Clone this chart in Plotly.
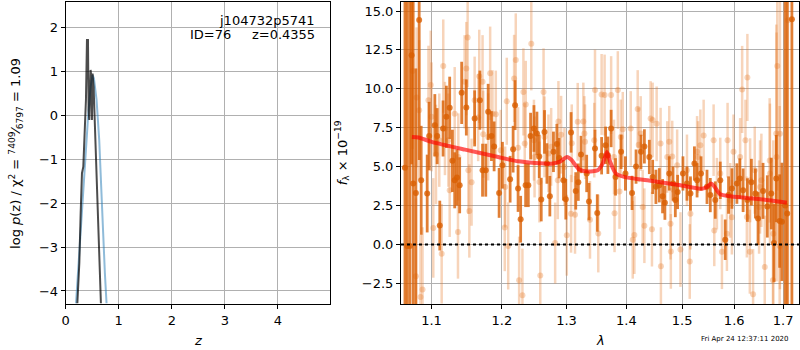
import plotly.graph_objects as go

# ---------------- left panel: log p(z) ----------------
pz_z = [0.195, 0.238, 0.282, 0.332, 0.382, 0.426, 0.470, 0.507, 0.532, 0.582,
        0.632, 0.676, 0.707, 0.739, 0.770]
pz_logp = [-4.28, -3.45, -2.69, -1.78, -0.79, 0.04, 0.65, 0.91, 0.84, 0.35,
           -0.56, -1.63, -2.69, -3.60, -4.28]

chi_z = [0.220, 0.245, 0.257, 0.282, 0.307, 0.332, 0.357, 0.382, 0.401, 0.420,
         0.432, 0.445, 0.470, 0.482, 0.495, 0.507, 0.526, 0.551, 0.576, 0.601,
         0.626, 0.645, 0.664]
chi_logp = [-4.28, -3.60, -3.37, -2.23, -1.32, -1.17, -0.41, 0.35, 1.71, 1.71,
            0.12, -0.11, 1.03, 0.88, -0.11, 0.95, 0.65, -0.26, -1.17, -2.38,
            -3.29, -3.75, -4.28]

# ---------------- right panel: spectrum ----------------
dark_wave = [1.0644, 1.0674, 1.0709, 1.0732, 1.0753, 1.0789, 1.0833, 1.0860, 1.0941, 1.0968,
             1.1045, 1.1077, 1.1113, 1.1158, 1.1204, 1.1250, 1.1288, 1.1320, 1.1352, 1.1390,
             1.1418, 1.1484, 1.1603, 1.1678, 1.1717, 1.1764, 1.1799, 1.1847, 1.1886, 1.1960,
             1.2009, 1.2124, 1.2169, 1.2199, 1.2244, 1.2283, 1.2359, 1.2400, 1.2435, 1.2487,
             1.2533, 1.2569, 1.2600, 1.2651, 1.2689, 1.2735, 1.2792, 1.2846, 1.2882, 1.2951,
             1.2989, 1.3074, 1.3150, 1.3192, 1.3236, 1.3329, 1.3367, 1.3467, 1.3505, 1.3578,
             1.3645, 1.3684, 1.3739, 1.3814, 1.3909, 1.3984, 1.4099, 1.4169, 1.4256, 1.4316,
             1.4404, 1.4463, 1.4522, 1.4583, 1.4642, 1.4684, 1.4764, 1.4833, 1.4875, 1.4917,
             1.5016, 1.5091, 1.5156, 1.5231, 1.5281, 1.5356, 1.5470, 1.5533, 1.5629, 1.5726,
             1.5823, 1.5888, 1.5954, 1.6053, 1.6111, 1.6177, 1.6263, 1.6344, 1.6425, 1.6479,
             1.6581, 1.6669, 1.6751, 1.6807, 1.6855, 1.6926, 1.6974, 1.7040, 1.7085, 1.7184]
dark_flux = [4.92, -0.10, -0.10, 12.15, 3.91, 3.31, 14.42, 4.12, 3.27, 6.96,
             7.66, 6.96, 1.21, 7.45, 8.20, 8.78, 5.37, 4.12, 4.30, 3.80,
             9.74, 8.80, 8.10, 9.27, 4.77, 4.77, 8.52, 6.96, 6.30, 3.31,
             5.09, 4.19, 6.12, 8.95, 3.59, 1.62, 3.80, 3.80, 6.96, 7.45,
             7.13, 5.65, 2.88, 7.23, 5.20, 3.10, 5.95, 6.45, 5.55, 4.12,
             2.90, 7.20, 3.44, 4.00, 5.78, 4.56, 2.75, 6.17, 2.02, 5.70,
             6.37, 5.73, 7.45, 4.34, 5.95, 4.56, 3.31, 5.00, 5.95, 6.30,
             5.62, 4.34, 3.70, 3.80, 3.10, 2.68, 4.56, 3.91, 2.85, 3.37,
             4.56, 3.91, 3.27, 5.20, 4.12, 4.56, 3.70, 3.17, 2.85, 4.12,
             0.30, 3.17, 3.59, 3.91, 4.23, 3.48, 2.85, 4.00, 3.27, 1.66,
             3.44, 2.44, 3.27, 0.09, 4.23, 1.50, 1.45, 2.50, 1.98, 14.47]
dark_err = [20, 20, 20, 7, 20, 8, 9, 3.5, 2.5, 2.2,
            2.0, 1.8, 1.6, 1.8, 2.0, 2.0, 2.0, 1.8, 1.8, 1.8,
            2.0, 1.8, 1.8, 1.9, 1.7, 1.7, 1.8, 1.6, 1.6, 1.6,
            1.5, 1.5, 1.5, 1.6, 1.5, 1.5, 1.4, 1.4, 1.5, 1.5,
            1.4, 1.4, 1.4, 1.4, 1.3, 1.3, 1.3, 1.3, 1.3, 1.3,
            1.3, 1.3, 1.2, 1.2, 1.2, 1.2, 1.2, 1.2, 1.2, 1.2,
            1.2, 1.2, 1.2, 1.2, 1.1, 1.1, 1.1, 1.1, 1.1, 1.1,
            1.1, 1.1, 1.1, 1.1, 1.1, 1.1, 1.1, 1.1, 1.1, 1.1,
            1.1, 1.1, 1.1, 1.1, 1.1, 1.1, 1.1, 1.1, 1.2, 1.2,
            1.3, 1.2, 1.3, 1.3, 1.3, 1.4, 1.4, 1.5, 1.6, 1.7,
            1.8, 2.0, 2.3, 2.5, 2.8, 3.0, 3.8, 20, 20, 20]

light_wave = [1.0745, 1.0789, 1.0798, 1.0833, 1.0851, 1.0878, 1.0958, 1.0989, 1.1000, 1.1024,
              1.1061, 1.1106, 1.1139, 1.1161, 1.1184, 1.1232, 1.1250, 1.1320, 1.1366, 1.1371,
              1.1460, 1.1484, 1.1503, 1.1513, 1.1527, 1.1559, 1.1603, 1.1654, 1.1669, 1.1717,
              1.1727, 1.1799, 1.1828, 1.1862, 1.1911, 1.1984, 1.2044, 1.2050, 1.2074, 1.2095,
              1.2184, 1.2209, 1.2244, 1.2260, 1.2310, 1.2325, 1.2345, 1.2361, 1.2446, 1.2487,
              1.2496, 1.2572, 1.2585, 1.2636, 1.2651, 1.2713, 1.2756, 1.2819, 1.2861, 1.2871,
              1.2914, 1.2967, 1.3005, 1.3074, 1.3085, 1.3138, 1.3182, 1.3274, 1.3291, 1.3302,
              1.3384, 1.3455, 1.3467, 1.3522, 1.3578, 1.3628, 1.3739, 1.3788, 1.3797, 1.3853,
              1.3882, 1.3904, 1.3938, 1.4076, 1.4111, 1.4140, 1.4198, 1.4216, 1.4251, 1.4286,
              1.4316, 1.4427, 1.4451, 1.4463, 1.4535, 1.4606, 1.4612, 1.4727, 1.4764, 1.4787,
              1.4793, 1.4818, 1.4909, 1.4970, 1.5091, 1.5143, 1.5156, 1.5281, 1.5300, 1.5343,
              1.5406, 1.5597, 1.5610, 1.5661, 1.5726, 1.5759, 1.5856, 1.5869, 1.5921, 1.5954,
              1.5986, 1.6118, 1.6158, 1.6224, 1.6252, 1.6263, 1.6312, 1.6318, 1.6378, 1.6412,
              1.6500, 1.6520, 1.6547, 1.6616, 1.6718, 1.6724, 1.6786, 1.6793, 1.6855, 1.6862,
              1.6876, 1.6926, 1.6932, 1.7100]
light_flux = [11.14, -2.05, 9.45, 8.63, -3.38, -2.90, 9.27, 10.24, 8.20, 1.06,
              5.78, 6.70, -0.60, 11.46, 7.45, 6.70, 3.48, 8.40, 0.80, 5.62,
              10.45, 11.30, 13.30, 4.76, 2.15, 4.00, 9.27, 8.15, 10.80, 10.45,
              7.08, 6.91, 11.00, 8.40, 8.37, 6.05, 1.08, 3.69, 9.20, -0.10,
              10.67, 11.85, 6.22, -2.30, -3.27, 9.80, 6.48, 9.00, 12.90, 6.70,
              5.62, 4.01, -2.00, 9.80, 6.91, 5.85, 6.27, 0.09, 4.12, 7.90,
              7.05, 4.98, 0.59, 1.97, 6.50, 1.90, 7.88, 7.90, 7.13, 6.60,
              1.58, 6.70, 9.92, 0.70, 9.64, 9.60, 9.60, 5.62, 2.00, 9.92,
              3.40, 6.91, 7.40, 7.45, 0.30, 0.60, 8.70, 6.40, 7.13, 2.40,
              1.20, 8.09, 0.98, 8.00, 7.75, 6.48, -1.40, 5.62, 6.60, 1.33,
              -0.45, 5.65, 5.09, -0.33, 4.76, -1.10, 1.97, 5.95, 5.62, 6.37,
              7.00, 6.70, 0.90, 3.26, 4.56, -0.47, 0.69, 6.70, 2.83, 1.75,
              5.95, 5.62, 9.96, 6.70, 1.76, 10.73, -0.47, 4.12, -3.20, 4.77,
              2.40, 3.69, 4.12, -1.45, 5.40, 4.55, -2.30, 0.69, 7.13, 5.62,
              11.46, -0.10, 7.12, 14.40]
light_err = [5.0, 5.0, 4.5, 4.5, 4.0, 4.0, 3.5, 3.5, 3.5, 3.2,
             3.2, 3.0, 3.2, 3.0, 3.0, 3.0, 3.0, 3.0, 3.0, 2.8,
             3.0, 3.0, 3.2, 2.8, 3.0, 2.8, 2.8, 2.8, 3.0, 3.0,
             2.8, 2.8, 3.0, 2.8, 2.8, 2.6, 2.8, 2.6, 2.8, 2.8,
             2.8, 3.0, 2.6, 2.8, 3.0, 2.8, 2.6, 2.8, 3.0, 2.6,
             2.6, 2.6, 2.8, 2.8, 2.6, 2.5, 2.5, 2.6, 2.5, 2.6,
             2.5, 2.5, 2.6, 2.5, 2.5, 2.5, 2.5, 2.5, 2.4, 2.4,
             2.5, 2.4, 2.6, 2.5, 2.6, 2.6, 2.5, 2.4, 2.5, 2.5,
             2.4, 2.4, 2.4, 2.4, 2.5, 2.5, 2.5, 2.4, 2.4, 2.4,
             2.4, 2.4, 2.4, 2.4, 2.4, 2.3, 2.5, 2.3, 2.3, 2.3,
             2.4, 2.3, 2.3, 2.4, 2.3, 2.4, 2.3, 2.3, 2.3, 2.3,
             2.3, 2.3, 2.3, 2.3, 2.3, 2.4, 2.4, 2.4, 2.4, 2.4,
             2.4, 2.5, 2.8, 2.6, 2.6, 2.8, 2.7, 2.7, 2.9, 2.8,
             3.0, 3.0, 3.0, 3.3, 4.0, 4.5, 5.0, 6.0, 7.0, 8.0,
             8.0, 9.0, 10.0, 20.0]

model_wave = [1.0736, 1.0825, 1.1003, 1.1465, 1.1945, 1.2244, 1.2756, 1.2887, 1.3010, 1.3074,
              1.3209, 1.3345, 1.3512, 1.3595, 1.3667, 1.3723, 1.3820, 1.3962, 1.4368, 1.4970,
              1.5375, 1.5470, 1.5546, 1.5610, 1.5726, 1.6252, 1.6587, 1.7078]
model_flux = [6.91, 6.87, 6.59, 6.09, 5.62, 5.34, 5.19, 5.30, 5.62, 5.45,
              4.81, 4.68, 4.76, 5.19, 5.94, 5.30, 4.55, 4.34, 4.12, 3.80,
              3.58, 3.69, 3.91, 3.73, 3.22, 2.98, 2.88, 2.68]

lam_ticks = [1.1, 1.2, 1.3, 1.4, 1.5, 1.6, 1.7]
flux_ticks = [-2.5, 0.0, 2.5, 5.0, 7.5, 10.0, 12.5, 15.0]
z_ticks = [0, 1, 2, 3, 4]
logp_ticks = [-4, -3, -2, -1, 0, 1, 2]

FONT = "DejaVu Sans"
FS = 13
W, H = 800, 350

fig = go.Figure()

fig.add_trace(go.Scatter(x=pz_z, y=pz_logp, xaxis="x", yaxis="y", mode="lines",
                         line=dict(color="rgba(31,119,180,0.5)", width=2), showlegend=False))
fig.add_trace(go.Scatter(x=chi_z, y=chi_logp, xaxis="x", yaxis="y", mode="lines",
                         line=dict(color="rgba(0,0,0,0.7)", width=2), showlegend=False))

light_col = "rgba(230,120,40,0.32)"
fig.add_trace(go.Scatter(x=light_wave, y=light_flux, xaxis="x2", yaxis="y2", mode="markers",
                         marker=dict(color=light_col, size=6),
                         error_y=dict(type="data", array=light_err, color=light_col,
                                      thickness=2.5, width=0),
                         showlegend=False))
dark_col = "rgba(217,95,2,0.8)"
fig.add_trace(go.Scatter(x=dark_wave, y=dark_flux, xaxis="x2", yaxis="y2", mode="markers",
                         marker=dict(color=dark_col, size=6),
                         error_y=dict(type="data", array=dark_err, color=dark_col,
                                      thickness=2.8, width=0),
                         showlegend=False))
fig.add_trace(go.Scatter(x=model_wave, y=model_flux, xaxis="x2", yaxis="y2", mode="lines",
                         line=dict(color="rgba(255,0,0,0.65)", width=4, shape="spline",
                                   smoothing=0.6),
                         showlegend=False))

fig.add_shape(type="line", xref="x2 domain", yref="y2", x0=0, x1=1, y0=0, y1=0,
              line=dict(color="black", width=2, dash="dot"))

ydom = [1 - 304 / H, 1 - 2 / H]
axis_common = dict(showline=True, linecolor="black", linewidth=1, mirror=True,
                   ticks="outside", ticklen=4, tickcolor="black",
                   showgrid=True, gridcolor="#b0b0b0", gridwidth=1, zeroline=False,
                   tickfont=dict(family=FONT, size=FS, color="black"))

fig.update_layout(
    width=W, height=H,
    margin=dict(l=0, r=0, t=0, b=0),
    paper_bgcolor="white", plot_bgcolor="white",
    font=dict(family=FONT, color="black", size=FS),
    xaxis=dict(domain=[62 / W, 328 / W], range=[0, 4.99], tickvals=z_ticks,
               anchor="y", **axis_common),
    yaxis=dict(domain=ydom, range=[-4.296, 2.576], tickvals=logp_ticks,
               anchor="x", **axis_common),
    xaxis2=dict(domain=[399 / W, 799 / W], type="log", range=[0.02498, 0.23895],
                tickvals=lam_ticks, ticktext=[f"{v:.1f}" for v in lam_ticks],
                anchor="y2", **axis_common),
    yaxis2=dict(domain=ydom, range=[-3.83, 15.58], tickvals=flux_ticks,
                tickformat=".1f", anchor="x2", **axis_common),
)

nb = "\u00a0"
ann = [
    dict(text="j104732p5741", x=315 / W, y=1 - 20 / H, xanchor="right", yanchor="middle",
         size=FS),
    dict(text="ID=76" + nb * 5 + "z=0.4355", x=315 / W, y=1 - 35 / H, xanchor="right",
         yanchor="middle", size=FS),
    dict(text="log <i>p</i>(z) / χ<sup>2</sup> = <sup>7409</sup>⁄<sub>6797</sub> = 1.09",
         x=12 / W, y=1 - 153 / H, textangle=-90, xanchor="center", yanchor="middle", size=FS),
    dict(text="<i>f</i><sub>λ</sub> × 10<sup>−19</sup>", x=340 / W, y=1 - 153 / H,
         textangle=-90, xanchor="center", yanchor="middle", size=FS),
    dict(text="<i>z</i>", x=195 / W, y=1 - 340 / H, xanchor="center", yanchor="middle",
         size=FS),
    dict(text="<i>λ</i>", x=599 / W, y=1 - 340 / H, xanchor="center", yanchor="middle",
         size=FS),
    dict(text="Fri Apr 24 12:37:11 2020", x=745 / W, y=1 - 339 / H, xanchor="center",
         yanchor="middle", size=7),
]
for a in ann:
    sz = a.pop("size")
    fig.add_annotation(xref="paper", yref="paper", showarrow=False,
                       font=dict(family=FONT, size=sz, color="black"), **a)

fig.write_html("out.html", config={"displayModeBar": False},
               post_script="document.body.style.margin='0';")
